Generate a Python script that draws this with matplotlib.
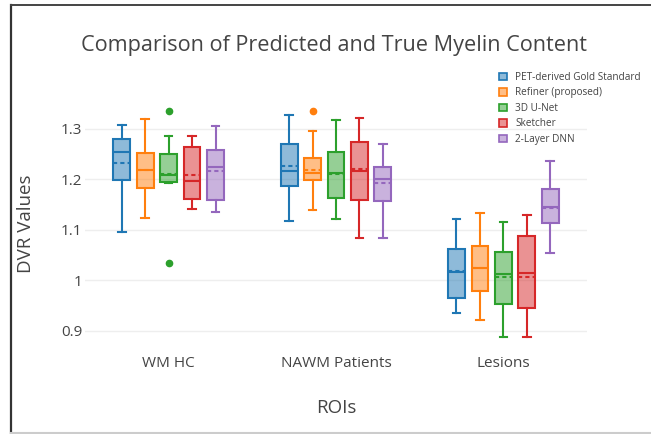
import matplotlib.pyplot as plt
from matplotlib.patches import Patch
from matplotlib.lines import Line2D
from matplotlib.colors import to_rgba

plt.rcParams['font.family'] = ['Open Sans', 'DejaVu Sans']

categories = ['WM HC', 'NAWM Patients', 'Lesions']
models = ['PET-derived Gold Standard', 'Refiner (proposed)', '3D U-Net', 'Sketcher', '2-Layer DNN']
colors = ['#1f77b4', '#ff7f0e', '#2ca02c', '#d62728', '#9467bd']

# per model, per category: (whislo, q1, median, mean, q3, whishi)
gold = [(1.095, 1.198, 1.253, 1.233, 1.280, 1.307),
        (1.117, 1.187, 1.216, 1.226, 1.270, 1.327),
        (0.936, 0.966, 1.017, 1.018, 1.062, 1.122)]
refiner = [(1.123, 1.182, 1.218, 1.218, 1.252, 1.320),
           (1.140, 1.198, 1.212, 1.219, 1.242, 1.296),
           (0.921, 0.979, 1.024, 1.025, 1.068, 1.133)]
unet = [(1.193, 1.194, 1.209, 1.210, 1.250, 1.285),
        (1.121, 1.164, 1.213, 1.210, 1.254, 1.318),
        (0.888, 0.953, 1.012, 1.007, 1.056, 1.115)]
sketcher = [(1.141, 1.162, 1.196, 1.209, 1.264, 1.285),
            (1.083, 1.159, 1.216, 1.220, 1.274, 1.321),
            (0.888, 0.946, 1.014, 1.007, 1.087, 1.129)]
dnn = [(1.136, 1.159, 1.225, 1.216, 1.257, 1.305),
       (1.083, 1.158, 1.201, 1.192, 1.224, 1.270),
       (1.054, 1.113, 1.145, 1.144, 1.181, 1.237)]
# outliers: (model index, category index, values)
outliers = [(2, 0, [1.335, 1.035]), (1, 1, [1.335])]

series = [gold, refiner, unet, sketcher, dnn]

fig = plt.figure(figsize=(6.51, 4.34), dpi=100)
ax = fig.add_axes([85 / 651, 85 / 434, 502 / 651, 250 / 434])

text_c = '#444444'
step = 0.14
bw = 0.1
for j, (data, col) in enumerate(zip(series, colors)):
    stats = []
    for i, (lo, q1, med, mean, q3, hi) in enumerate(data):
        fl = []
        for (mj, ci, vals) in outliers:
            if mj == j and ci == i:
                fl = vals
        stats.append(dict(whislo=lo, q1=q1, med=med, mean=mean, q3=q3, whishi=hi, fliers=fl))
    pos = [i + (j - 2) * step for i in range(len(categories))]
    ax.bxp(stats, positions=pos, widths=bw, patch_artist=True, showmeans=True, meanline=True,
           capwidths=0.045, manage_ticks=False,
           boxprops=dict(facecolor=to_rgba(col, 0.5), edgecolor=col, linewidth=1.5),
           medianprops=dict(color=col, linewidth=1.5),
           meanprops=dict(color=col, linewidth=1.5, linestyle=(0, (2, 1.5))),
           whiskerprops=dict(color=col, linewidth=1.5),
           capprops=dict(color=col, linewidth=1.5),
           flierprops=dict(marker='o', markerfacecolor=col, markeredgecolor=col, markersize=4.5))

ax.set_xlim(-0.5, 2.5)
ax.set_ylim(0.8644, 1.3588)
ax.set_xticks(range(len(categories)))
ax.set_xticklabels(categories)
ax.set_yticks([0.9, 1.0, 1.1, 1.2, 1.3])
ax.set_yticklabels(['0.9', '1', '1.1', '1.2', '1.3'])
ax.tick_params(axis='both', length=0, colors=text_c, labelsize=11)
ax.tick_params(axis='y', pad=2)
ax.tick_params(axis='x', pad=5)
for s in ax.spines.values():
    s.set_visible(False)
ax.grid(axis='y', color='#eeeeee', linewidth=1)
ax.set_axisbelow(True)

ax.set_ylabel('DVR Values', fontsize=13.5, color=text_c)
ax.yaxis.set_label_coords(-0.0996, 0.5)
ax.set_xlabel('ROIs', fontsize=13.5, color=text_c)
ax.xaxis.set_label_coords(0.5, -0.2)

fig.text(334 / 651, 1 - 45 / 434, 'Comparison of Predicted and True Myelin Content',
         ha='center', va='center', fontsize=15.6, color=text_c)

handles = [Patch(facecolor=to_rgba(c, 0.5), edgecolor=c, linewidth=1.2) for c in colors]
leg = fig.legend(handles, models, loc='upper left', bbox_to_anchor=(495 / 651, 1 - 68 / 434),
                 frameon=False, fontsize=7.2, handlelength=0.8, handleheight=0.8,
                 handletextpad=0.8, labelspacing=0.45, borderaxespad=0)
for t in leg.get_texts():
    t.set_color(text_c)

# screenshot frame
fig.add_artist(Line2D([10.5 / 651, 10.5 / 651], [0, 1 - 4.5 / 434], transform=fig.transFigure,
                      color='#333333', linewidth=1.6))
fig.add_artist(Line2D([10.5 / 651, 1], [1 - 5 / 434, 1 - 5 / 434], transform=fig.transFigure,
                      color='#444444', linewidth=1.4))
fig.add_artist(Line2D([10.5 / 651, 1], [1.5 / 434, 1.5 / 434], transform=fig.transFigure,
                      color='#cccccc', linewidth=1.5))

fig.savefig('out.png', dpi=100)
